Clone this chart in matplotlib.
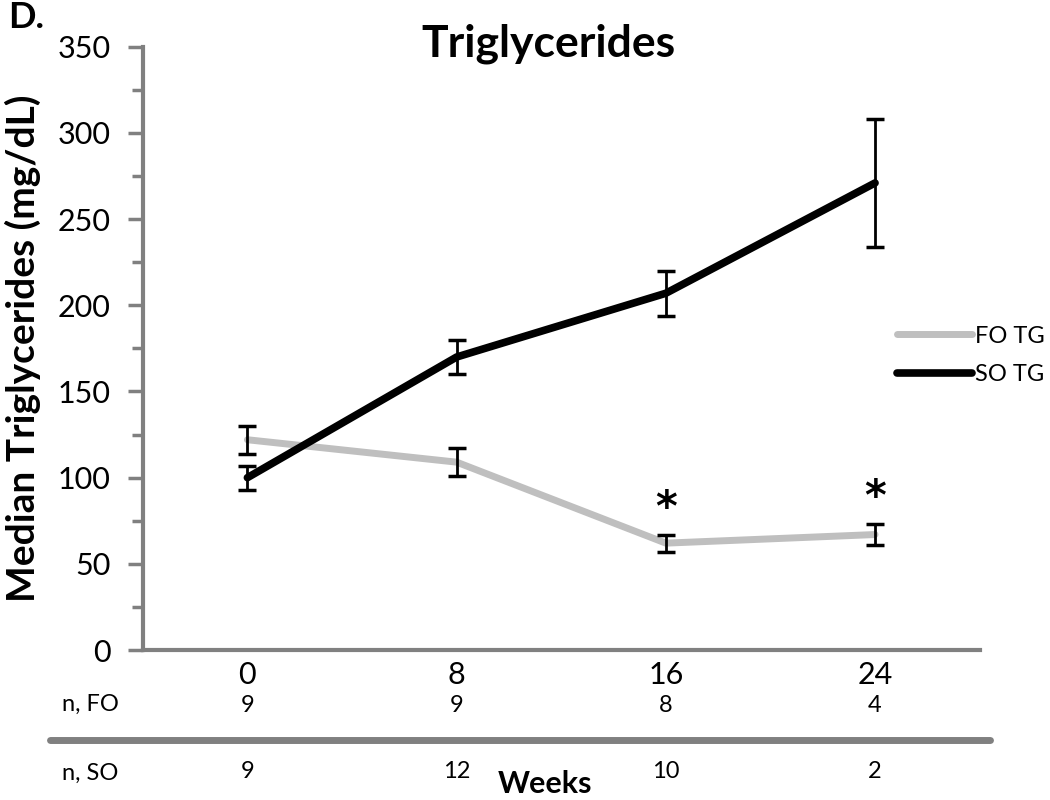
import matplotlib
matplotlib.use('Agg')
import matplotlib.pyplot as plt
from matplotlib.ticker import MultipleLocator
from matplotlib.lines import Line2D

plt.rcParams['font.family'] = ['Lato', 'DejaVu Sans']

weeks = ['0', '8', '16', '24']
fo_tg = [122, 109, 62, 67]
fo_err = [8, 8, 5, 6]
so_tg = [100, 170, 207, 271]
so_err = [7, 10, 13, 37]
n_fo = ['9', '9', '8', '4']
n_so = ['9', '12', '10', '2']
signif = [False, False, True, True]

fig = plt.figure(figsize=(10.5, 8), dpi=100)
ax = fig.add_axes([0.136, 0.1875, 0.797, 0.754])

x = list(range(len(weeks)))
ax.plot(x, fo_tg, color='#bfbfbf', lw=5, solid_capstyle='round', label='FO TG', zorder=2)
ax.plot(x, so_tg, color='black', lw=5.5, solid_capstyle='round', label='SO TG', zorder=3)
ax.errorbar(x, fo_tg, yerr=fo_err, fmt='none', ecolor='black', elinewidth=2,
            capsize=6.5, capthick=2.5, zorder=4)
ax.errorbar(x, so_tg, yerr=so_err, fmt='none', ecolor='black', elinewidth=2,
            capsize=6.5, capthick=2.5, zorder=4)

for i, s in enumerate(signif):
    if s:
        ax.text(x[i], fo_tg[i] + fo_err[i] + 15, '*', ha='center', va='center',
                fontsize=30, fontweight='bold', family='DejaVu Sans')

ax.set_xlim(-0.5, 3.5)
ax.set_ylim(0, 350)
ax.set_xticks(x)
ax.set_xticklabels(weeks, fontsize=22)
ax.tick_params(axis='x', length=0, pad=8)
ax.yaxis.set_major_locator(MultipleLocator(50))
ax.yaxis.set_minor_locator(MultipleLocator(25))
ax.tick_params(axis='y', which='major', length=11, width=2.5, color='#808080',
               labelsize=22, pad=12)
ax.tick_params(axis='y', which='minor', length=8, width=2.5, color='#808080')
for side in ['top', 'right']:
    ax.spines[side].set_visible(False)
for side in ['left', 'bottom']:
    ax.spines[side].set_color('#808080')
    ax.spines[side].set_linewidth(3)

ax.set_ylabel('Median Triglycerides (mg/dL)', fontsize=28, fontweight='bold', labelpad=12)
fig.text(0.522, 0.945, 'Triglycerides', ha='center', va='center', fontsize=32, fontweight='bold')
fig.text(0.008, 0.978, 'D.', ha='left', va='center', fontsize=26, fontweight='bold')

# n table under the axis
for i in x:
    xf = ax.transData.transform((x[i], 0))[0] / fig.bbox.width
    fig.text(xf, 0.118, n_fo[i], ha='center', va='center', fontsize=17)
    fig.text(xf, 0.035, n_so[i], ha='center', va='center', fontsize=17)
fig.text(0.086, 0.120, 'n, FO', ha='center', va='center', fontsize=17)
fig.text(0.086, 0.033, 'n, SO', ha='center', va='center', fontsize=17)
fig.add_artist(Line2D([0.048, 0.943], [0.075, 0.075], color='#808080', lw=5,
                      solid_capstyle='round', transform=fig.transFigure))
fig.text(0.519, 0.003, 'Weeks', ha='center', va='bottom', fontsize=22, fontweight='bold')

ax.legend(loc='upper left', bbox_to_anchor=(0.854, 0.593), bbox_transform=fig.transFigure,
          frameon=False, fontsize=17, handlelength=3.2, handletextpad=0.1,
          labelspacing=0.75, borderpad=0, borderaxespad=0)

fig.savefig('out.png', dpi=100)
